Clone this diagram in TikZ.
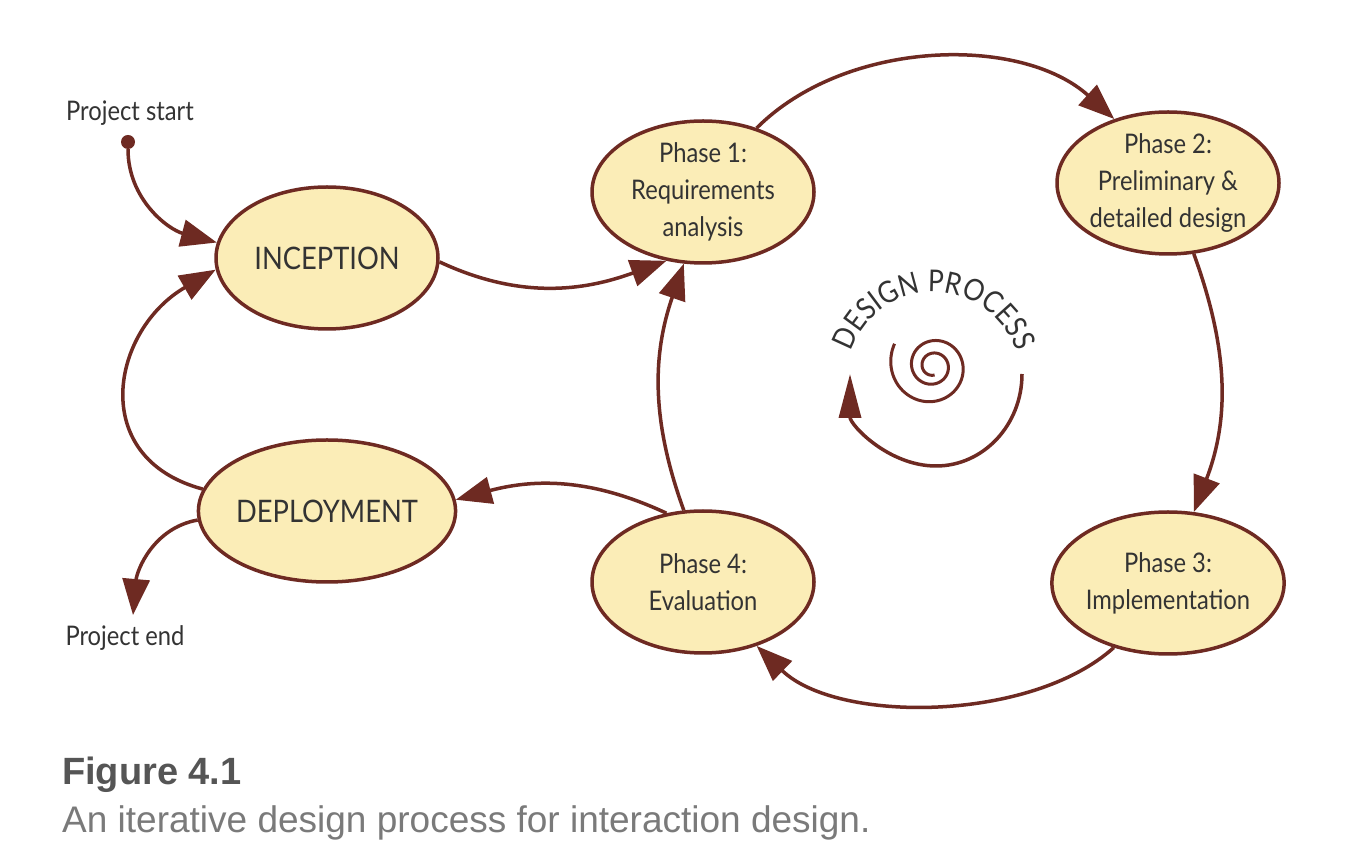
\documentclass[tikz,border=0pt]{standalone}
\usepackage{fontspec}
\setmainfont{Lato}[FakeStretch=0.88]
\newfontfamily\capfont{Liberation Sans}
\usetikzlibrary{shapes.geometric,arrows.meta,decorations.text}
\definecolor{edge}{HTML}{6E2A22}
\definecolor{fillc}{HTML}{FBEDB7}
\definecolor{txt}{HTML}{333333}
\definecolor{capbold}{HTML}{555555}
\definecolor{capgray}{HTML}{7A7A7A}
\tikzset{
  phase/.style={ellipse, draw=edge, fill=fillc, line width=3.5pt, minimum width=222pt,
    minimum height=142pt, inner sep=0pt, text=txt, align=center,
    font=\fontsize{27}{37}\selectfont},
  conn/.style={draw=edge, line width=3.5pt, -{Triangle[length=36pt,width=27pt]}},
  lbl/.style={text=txt, font=\fontsize{27}{30}\selectfont, inner sep=0pt},
  capline/.style={anchor=base west, inner sep=0pt},
}
\begin{document}
\begin{tikzpicture}[x=1pt,y=1pt]
\fill[white] (0,0) rectangle (1363,857);
\useasboundingbox (0,0) rectangle (1363,857);

% nodes
\node[phase] (inc) at (327,599) {\fontsize{31}{34}\selectfont INCEPTION};
\node[phase] (dep) at (327,346) {\fontsize{31}{34}\selectfont DEPLOYMENT};
\node[phase] (p1) at (703,665) {Phase 1:\\Requirements\\analysis};
\node[phase] (p2) at (1168,674) {Phase 2:\\Preliminary \&\\detailed design};
\node[phase] (p3) at (1168,274) {Phase 3:\\Implementation};
\node[phase] (p4) at (703,275) {Phase 4:\\Evaluation};

\node[lbl] (lstart) at (130,744) {Project start};
\node[lbl] (lend) at (125,219) {Project end};
\node[circle, fill=edge, inner sep=0pt, minimum size=14pt] (pstart) at (128,715) {};
\coordinate (pend) at (133,242);

% connectors
\draw[conn] (pstart.south) to[out=-90, in=165] (inc.172);
\draw[conn] (dep.170) to[out=165, in=210, looseness=1.4] (inc.186);
\draw[conn] (dep.184) to[out=190, in=85] (pend);
\draw[conn] (inc.-2) to[out=-25, in=200] (p1.-118);
\draw[conn] (p1.50) to[out=45, in=138, looseness=0.9] (p2.130);
\draw[conn] (p2.-70) to[out=-70, in=69] (p3.70);
\draw[conn] (p3.-130) to[out=222, in=-44, looseness=0.8] (p4.-50);
\draw[conn] (p4.105) to[out=110, in=-109] (p1.-105);
\draw[conn] (p4.118) to[out=155, in=15] (dep.5);

% design process emblem
\path[decorate, decoration={text along path, text align=fit to path,
  text={|\fontsize{30}{30}\selectfont\color{txt}|DESIGN PROCESS}}]
  (851.0,505.0) arc[start angle=162, end angle=18, radius=87];
\draw[edge, line width=3pt] plot[domain=150:1000, samples=300, smooth, variable=\t]
  ({933+42*exp(-(\t-180)/535)*cos(\t)}, {491+42*exp(-(\t-180)/535)*sin(\t)});
\draw[edge, line width=3.5pt, -{Triangle[length=44pt,width=22pt]}]
  (1022,483) arc[start angle=0, end angle=-180, x radius=86, y radius=92];

% caption
\node[capline, text=capbold, font=\capfont\bfseries\fontsize{38}{40}\selectfont] (fig) at (62,72) {Figure 4.1};
\node[capline, text=capgray, font=\capfont\fontsize{37}{40}\selectfont] (cap) at (62,25) {An iterative design process for interaction design.};
\end{tikzpicture}
\end{document}
